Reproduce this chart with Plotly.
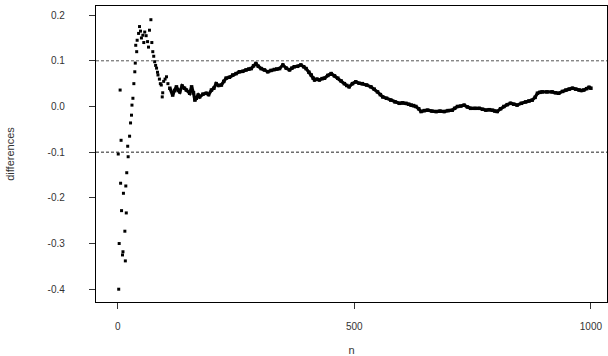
import plotly.graph_objects as go

# early scattered points
early_n = [1, 2, 3, 5, 6, 7, 8, 10, 11, 12, 15, 16, 17, 18, 19, 21, 22, 25, 27, 29,
           30, 32, 34, 36, 37, 38, 40, 41, 44, 46, 48, 50, 53, 55, 57, 60, 63, 65, 67, 70,
           72, 74, 76, 78, 80, 82, 84, 85, 88, 90, 92, 94, 95, 97, 100, 103, 106]
early_v = [-0.104, -0.40, -0.30, 0.036, -0.168, -0.074, -0.228, -0.325, -0.318, -0.19,
           -0.273, -0.338, -0.174, -0.233, -0.145, -0.087, -0.11, -0.065, -0.036, -0.019,
           0.003, 0.018, 0.05, 0.076, 0.095, 0.134, 0.12, 0.145, 0.16, 0.175,
           0.165, 0.15, 0.156, 0.14, 0.163, 0.155, 0.142, 0.13, 0.167, 0.19,
           0.14, 0.12, 0.11, 0.098, 0.09, 0.084, 0.075, 0.069, 0.06, 0.05,
           0.047, 0.021, 0.03, 0.055, 0.06, 0.065, 0.05]

# dense part
dense_n = [110, 116, 120, 124, 128, 131, 136, 141, 145, 152, 156, 160, 163, 166, 170, 173,
           180, 187, 192, 198, 203, 208, 213, 219, 224, 229, 236, 243, 250, 257, 264, 271,
           277, 282, 287, 292, 297, 303, 310, 317, 324, 331, 336, 342, 349, 356, 363, 368,
           373, 380, 387, 393, 398, 404, 409, 413, 416, 421, 426, 432, 437, 444, 451, 458,
           465, 472, 479, 484, 489, 496, 503, 510, 517, 526, 535, 542, 549, 555, 560, 568,
           577, 586, 595, 602, 609, 615, 620, 625, 630, 636, 641, 648, 655, 664, 673, 681,
           690, 698, 707, 712, 718, 725, 732, 739, 746, 755, 764, 771, 778, 785, 792, 797,
           802, 809, 816, 823, 830, 837, 844, 853, 862, 869, 876, 882, 887, 892, 897, 907,
           918, 925, 932, 940, 947, 954, 961, 968, 975, 980, 985, 991, 996, 1000]
dense_v = [0.04, 0.025, 0.035, 0.043, 0.035, 0.032, 0.045, 0.04, 0.036, 0.029, 0.043, 0.03,
           0.014, 0.018, 0.025, 0.021, 0.027, 0.029, 0.026, 0.036, 0.04, 0.05, 0.046, 0.047,
           0.055, 0.062, 0.064, 0.069, 0.072, 0.076, 0.077, 0.08, 0.082, 0.083, 0.089, 0.094,
           0.088, 0.083, 0.08, 0.076, 0.079, 0.081, 0.082, 0.083, 0.091, 0.084, 0.08, 0.084,
           0.087, 0.088, 0.091, 0.087, 0.083, 0.075, 0.069, 0.062, 0.058, 0.06, 0.058, 0.061,
           0.062, 0.068, 0.072, 0.067, 0.062, 0.056, 0.05, 0.046, 0.043, 0.05, 0.054, 0.051,
           0.05, 0.047, 0.043, 0.038, 0.032, 0.026, 0.021, 0.018, 0.014, 0.01, 0.007, 0.008,
           0.007, 0.005, 0.003, 0.002, 0.0, -0.005, -0.011, -0.009, -0.008, -0.01, -0.011, -0.01,
           -0.011, -0.009, -0.008, -0.004, 0.0, 0.001, 0.003, -0.001, -0.004, -0.004, -0.004, -0.006,
           -0.008, -0.007, -0.008, -0.01, -0.011, -0.005, 0.0, 0.004, 0.007, 0.005, 0.003, 0.007,
           0.01, 0.012, 0.014, 0.02, 0.029, 0.031, 0.032, 0.032, 0.032, 0.03, 0.029, 0.033,
           0.036, 0.038, 0.04, 0.038, 0.036, 0.035, 0.036, 0.039, 0.042, 0.04]

ref_lines = [0.1, -0.1]
x_ticks = [0, 500, 1000]
y_ticks = [-0.4, -0.3, -0.2, -0.1, 0.0, 0.1, 0.2]

fig = go.Figure()
for i, y in enumerate(ref_lines):
    fig.add_hline(y=y, line=dict(color="#555555" if i == 0 else "#222222", width=1, dash="3px,2px"))

fig.add_trace(go.Scatter(x=early_n, y=early_v, mode="markers",
                         marker=dict(symbol="square", size=3, color="black"),
                         showlegend=False))
fig.add_trace(go.Scatter(x=dense_n, y=dense_v, mode="lines+markers",
                         line=dict(color="black", width=3.2),
                         marker=dict(symbol="square", size=3.5, color="black"),
                         showlegend=False))

font = dict(family="Liberation Sans, Arial, sans-serif", size=10, color="#333333")
fig.update_layout(
    width=608, height=356,
    margin=dict(l=96, r=1, t=6, b=54),
    paper_bgcolor="white", plot_bgcolor="white",
    font=font,
    xaxis=dict(range=[-46, 1034], tickvals=x_ticks, ticktext=[str(v) for v in x_ticks],
               showgrid=False, zeroline=False, showline=True, linecolor="black",
               linewidth=1.3, mirror=True, ticks="outside", ticklen=6, tickcolor="#333333",
               tickwidth=1.3, ticklabelstandoff=9, automargin=False,
               title=dict(text="n", font=dict(size=11, color="#333333"), standoff=16)),
    yaxis=dict(range=[-0.428, 0.22], tickvals=y_ticks,
               ticktext=[f"{v:.1f}" for v in y_ticks],
               showgrid=False, zeroline=False, showline=True, linecolor="black",
               linewidth=1.3, mirror=True, ticks="outside", ticklen=6, tickcolor="#333333",
               tickwidth=1.3, ticklabelstandoff=22, automargin=False,
               title=dict(text="differences", font=dict(size=11, color="#333333"), standoff=30)),
)
fig.write_html("out.html", config={"displayModeBar": False},
               post_script="document.body.style.margin='0';document.body.style.padding='0';")
